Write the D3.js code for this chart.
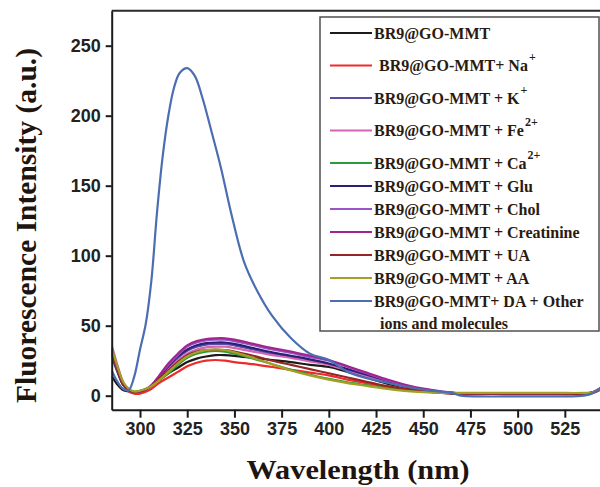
<!DOCTYPE html>
<html>
<head>
<meta charset="utf-8">
<script src="https://cdn.jsdelivr.net/npm/d3@7/dist/d3.min.js"></script>
<style>
  body { margin: 0; background: #fff; }
  svg { display: block; }
</style>
</head>
<body>
<div id="chart"></div>
<script>
// wavelength grid (nm) shared by the ten low-intensity spectra
const wavelengths = [285, 288, 291, 294, 297, 300, 305, 310, 315, 320, 325, 330, 335, 340, 345, 350, 360, 370, 380, 390, 400, 410, 420, 430, 440, 450, 460, 470, 480, 500, 520, 535, 540, 545];

const base = [14, 8, 4, 3, 2.5, 3, 6, 11, 16, 20, 24, 26.5, 28, 29, 29, 28.5, 27, 25.5, 24, 22, 20.5, 17, 13, 9, 6, 3.5, 2.5, 1.5, 1.5, 1.5, 1.5, 1.5, 2.5, 6];
const withNa = [30, 18, 8, 3, 1.5, 1.5, 4, 9, 13, 17, 21, 23.5, 25, 25.5, 25, 24, 22.5, 20.5, 18.5, 16.5, 14.5, 11.5, 9, 6.5, 4.5, 3, 2, 1.2, 1.2, 1.2, 1.2, 1.2, 2, 5];
const withK = [28, 17, 8, 4, 2.5, 3, 6, 13, 20, 27, 32, 35, 36.5, 37, 37, 36, 33, 30, 28, 25.5, 22.5, 18.5, 14, 10, 6.5, 4, 2.5, 1.5, 1.5, 1.5, 1.5, 1.5, 2.5, 6];
const withFe = [36, 22, 10, 4, 2.5, 3, 6, 13, 19, 25, 30, 33, 34.5, 35, 35, 34, 31.5, 29, 27, 24.5, 22, 18, 14, 10, 6.5, 4, 2.5, 1.5, 1.5, 1.5, 1.5, 1.5, 2.5, 6];
const withCa = [33, 20, 9, 4, 3, 3.5, 6, 11, 16, 22, 27, 30, 31.5, 32, 31.5, 30, 26.5, 22.5, 18.5, 15, 12, 9.5, 7.5, 5.5, 4, 3, 2, 1.8, 1.8, 1.8, 1.8, 1.8, 2.5, 6];
const withGlu = [30, 18, 8, 4, 2.5, 3, 6, 13, 21, 28, 33, 36, 37.5, 38, 38, 37, 34, 31, 28.5, 26, 23, 19, 15, 11, 7, 4.5, 2.5, 1.5, 1.5, 1.5, 1.5, 1.5, 2.5, 6];
const withChol = [32, 19, 9, 4, 2.5, 3, 6, 14, 22, 29, 35, 38, 39.5, 40, 40, 39, 36, 33, 30.5, 27.5, 25, 20.5, 16, 11.5, 7.5, 4.5, 2.5, 1.5, 1.5, 1.5, 1.5, 1.5, 2.5, 6];
const withCreatinine = [34, 20, 9, 4, 2.5, 3, 6, 14, 23, 30, 36, 39, 40.5, 41, 41, 40, 37, 34, 31.5, 28.5, 25.5, 21, 16.5, 12, 8, 5, 3, 1.5, 1.5, 1.5, 1.5, 1.5, 2.5, 6];
const withUA = [31, 19, 8, 4, 2.5, 3, 6, 12, 18, 24, 29, 31.5, 32.5, 33, 32.5, 31.5, 28.5, 25, 22, 19, 16, 13, 10, 7, 5, 3.5, 2, 1.5, 1.5, 1.5, 1.5, 1.5, 2.5, 6];
const withAA = [34, 21, 10, 5, 3, 3.5, 6, 11, 17, 23, 28, 31, 32.5, 33, 32.5, 31, 27, 22.5, 18, 14.5, 11.5, 9, 7, 5, 3.5, 2.5, 2, 2, 2, 2, 2, 2, 2.5, 6];

// the DA spectrum needs a finer grid around its steep peak
const daWavelengths = [285, 288, 291, 294, 297, 300, 303, 306, 309, 312, 315, 318, 321, 325, 329, 333, 338, 343, 348, 355, 362, 370, 380, 390, 400, 410, 420, 432, 445, 455, 465, 470, 480, 500, 520, 535, 540, 545];
const withDA = [18, 10, 5, 4, 14, 33, 51, 82, 131, 171, 200, 220, 230.5, 234, 228.5, 213, 188, 162, 132, 96, 75, 57, 41, 30, 25.5, 17, 12.5, 8.9, 5.5, 3.5, 2, 0, -0.5, -0.5, -0.5, 0, 2, 7];

const seriesNames = ['base', 'Na', 'K', 'Fe', 'Ca', 'Glu', 'Chol', 'Creatinine', 'UA', 'AA', 'DA'];
const seriesValues = [base, withNa, withK, withFe, withCa, withGlu, withChol, withCreatinine, withUA, withAA, withDA];
const seriesColors = ['#1e1a18', '#f02a2a', '#5a4ea2', '#d165b6', '#2f9a3c', '#2b2078', '#9a56c6', '#a1248f', '#932626', '#a4a026', '#4b6eb2'];
const legendMain = ['BR9@GO-MMT', 'BR9@GO-MMT+ Na', 'BR9@GO-MMT + K', 'BR9@GO-MMT + Fe', 'BR9@GO-MMT + Ca', 'BR9@GO-MMT + Glu', 'BR9@GO-MMT + Chol', 'BR9@GO-MMT + Creatinine', 'BR9@GO-MMT + UA', 'BR9@GO-MMT + AA', 'BR9@GO-MMT+ DA + Other'];
const legendSup = ['', '+', '+', '2+', '2+', '', '', '', '', '', ''];

const xTicks = [300, 325, 350, 375, 400, 425, 450, 475, 500, 525];
const yTicks = [0, 50, 100, 150, 200, 250];

const width = 600;
const height = 487;

const svg = d3
  .select('#chart')
  .append('svg')
  .attr('width', width)
  .attr('height', height);

const xScale = d3.scaleLinear().domain([285, 545]).range([111.7, 602.6]);
const yScale = d3.scaleLinear().domain([-10, 275]).range([409.7, 10.7]);

svg
  .append('clipPath')
  .attr('id', 'plot-clip')
  .append('rect')
  .attr('x', xScale(285))
  .attr('y', yScale(275))
  .attr('width', xScale(545) - xScale(285))
  .attr('height', yScale(-10) - yScale(275));

const line = d3
  .line()
  .x((d) => xScale(d[0]))
  .y((d) => yScale(d[1]))
  .curve(d3.curveCatmullRom.alpha(0.5));

const plot = svg.append('g').attr('clip-path', 'url(#plot-clip)');

seriesValues.forEach((values, i) => {
  const xs = seriesNames[i] === 'DA' ? daWavelengths : wavelengths;
  plot
    .append('path')
    .datum(values.map((v, j) => [xs[j], v]))
    .attr('fill', 'none')
    .attr('stroke', seriesColors[i])
    .attr('stroke-width', 2.2)
    .attr('stroke-linejoin', 'round')
    .attr('d', line);
});

// frame: top border, left and bottom axes
svg
  .append('line')
  .attr('x1', xScale(285))
  .attr('x2', width)
  .attr('y1', yScale(275))
  .attr('y2', yScale(275))
  .attr('stroke', '#2a2a2a')
  .attr('stroke-width', 2);

const xAxis = svg
  .append('g')
  .attr('transform', `translate(0,${yScale(-10)})`)
  .call(d3.axisBottom(xScale).tickValues(xTicks).tickSize(8).tickPadding(5).tickSizeOuter(0));

const yAxis = svg
  .append('g')
  .attr('transform', `translate(${xScale(285)},0)`)
  .call(d3.axisLeft(yScale).tickValues(yTicks).tickSize(6).tickPadding(5).tickSizeOuter(0));

[xAxis, yAxis].forEach((axis) => {
  axis.select('.domain').attr('stroke', '#1a1a1a').attr('stroke-width', 2);
  axis.selectAll('.tick line').attr('stroke', '#1a1a1a').attr('stroke-width', 2);
  axis
    .selectAll('.tick text')
    .attr('fill', '#222')
    .style('font-family', 'Liberation Sans, Arial, sans-serif')
    .style('font-size', '18px')
    .style('font-weight', 'bold');
});

svg
  .append('text')
  .attr('x', 358)
  .attr('y', 479)
  .attr('text-anchor', 'middle')
  .attr('textLength', 223)
  .attr('lengthAdjust', 'spacingAndGlyphs')
  .style('font-family', 'Liberation Serif, Times New Roman, serif')
  .style('font-size', '28px')
  .style('font-weight', 'bold')
  .attr('fill', '#1e1410')
  .text('Wavelength (nm)');

svg
  .append('text')
  .attr('transform', 'translate(36,225.5) rotate(-90)')
  .attr('text-anchor', 'middle')
  .attr('textLength', 355)
  .attr('lengthAdjust', 'spacingAndGlyphs')
  .style('font-family', 'Liberation Serif, Times New Roman, serif')
  .style('font-size', '29px')
  .style('font-weight', 'bold')
  .attr('fill', '#1e1410')
  .text('Fluorescence Intensity (a.u.)');

// legend
const legend = svg.append('g');

legend
  .append('rect')
  .attr('x', 320)
  .attr('y', 17)
  .attr('width', 279)
  .attr('height', 314)
  .attr('fill', '#fff')
  .attr('stroke', '#505050')
  .attr('stroke-width', 1.5);

const rowY = (i) => (i < 5 ? 33 + i * 32.5 : 163 + (i - 4) * 23);

const rows = legend
  .selectAll('.legend-row')
  .data(seriesNames)
  .enter()
  .append('g')
  .attr('class', 'legend-row')
  .attr('transform', (d, i) => `translate(0,${rowY(i)})`);

rows
  .append('line')
  .attr('x1', 330)
  .attr('x2', 372)
  .attr('y1', 0)
  .attr('y2', 0)
  .attr('stroke', (d, i) => seriesColors[i])
  .attr('stroke-width', 2.2);

const labels = rows
  .append('text')
  .attr('x', (d, i) => (i === 1 ? 379 : 374))
  .attr('y', 5.5)
  .attr('fill', '#2a1a10')
  .style('font-family', 'Liberation Serif, Times New Roman, serif')
  .style('font-size', '16px')
  .style('font-weight', 'bold');

labels.append('tspan').text((d, i) => legendMain[i]);

labels
  .filter((d, i) => legendSup[i] !== '')
  .append('tspan')
  .attr('dx', 1)
  .attr('dy', -10)
  .style('font-size', '12px')
  .text((d, i) => legendSup[seriesNames.indexOf(d)]);

legend
  .append('text')
  .attr('x', 380)
  .attr('y', rowY(10) + 28)
  .attr('fill', '#2a1a10')
  .style('font-family', 'Liberation Serif, Times New Roman, serif')
  .style('font-size', '16px')
  .style('font-weight', 'bold')
  .text('ions and molecules');
</script>
</body>
</html>
